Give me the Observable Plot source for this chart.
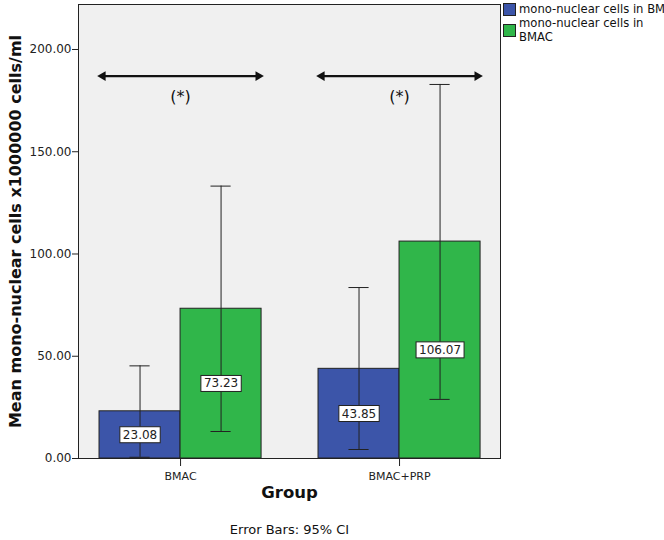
<!DOCTYPE html>
<html>
<head>
<meta charset="utf-8">
<script src="https://cdn.jsdelivr.net/npm/d3@7"></script>
<script src="https://cdn.jsdelivr.net/npm/@observablehq/plot@0.6"></script>
<style>
  html, body { margin: 0; padding: 0; background: #fff; }
  #wrap { position: relative; width: 664px; height: 540px; font-family: "DejaVu Sans", sans-serif; overflow: hidden; }
  #legend { position: absolute; left: 503px; top: 2px; width: 165px; font-size: 11.6px; color: #111; line-height: 14px; }
  .li { display: flex; align-items: flex-start; margin-bottom: 0px; white-space: nowrap; }
  .sw { width: 11px; height: 11px; border: 1px solid #222; margin-right: 3px; flex: none; }
</style>
</head>
<body>
<div id="wrap"><div id="legend"></div></div>
<script>
// ---- data ----
const groups = ["BMAC", "BMAC+PRP"];
const seriesNames = ["mono-nuclear cells in BM", "mono-nuclear cells in BMAC"];
const seriesColors = ["#3c55a9", "#30b64a"];
const barGroup = ["BMAC", "BMAC", "BMAC+PRP", "BMAC+PRP"];
const barSeries = ["mono-nuclear cells in BM", "mono-nuclear cells in BMAC", "mono-nuclear cells in BM", "mono-nuclear cells in BMAC"];
const meanValues = [23.08, 73.23, 43.85, 106.07];
const ciLow = [0.6, 13.2, 4.4, 28.9];
const ciHigh = [45.3, 133.2, 83.6, 182.9];
const yTicks = [0, 50, 100, 150, 200];
const sigGroups = ["BMAC", "BMAC+PRP"];
const sigLevel = [187, 187];
const sigLabelLevel = [177, 177];
const sigText = ["(*)", "(*)"];

// ---- layout helpers ----
const half = 0.37;     // bar width in group units
const cap = 0.046;     // half cap width
const arrowHalf = 0.355;
const bars = meanValues.map((v, i) => {
  const g = groups.indexOf(barGroup[i]);
  const s = seriesNames.indexOf(barSeries[i]);
  const x1 = s === 0 ? g - half : g;
  const x2 = s === 0 ? g : g + half;
  return {group: barGroup[i], series: barSeries[i], value: v, lo: ciLow[i], hi: ciHigh[i], x1, x2, xc: (x1 + x2) / 2, label: v.toFixed(2)};
});
const sigs = sigGroups.map((g, i) => {
  const gi = groups.indexOf(g);
  return {x1: gi - arrowHalf, x2: gi + arrowHalf, xc: gi, y: sigLevel[i], ly: sigLabelLevel[i], t: sigText[i]};
});
const heads = sigs.flatMap(s => [{x: s.x1, y: s.y, r: -90}, {x: s.x2, y: s.y, r: 90}]);

const chart = Plot.plot({
  width: 664,
  height: 540,
  marginTop: 4,
  marginLeft: 78,
  marginRight: 164,
  marginBottom: 82,
  style: {fontFamily: "DejaVu Sans, sans-serif", fontSize: "11px", color: "#222", background: "#fff"},
  x: {type: "linear", domain: [-0.466, 1.461], axis: null},
  y: {domain: [0, 222], axis: null},
  color: {domain: seriesNames, range: seriesColors},
  marks: [
    Plot.frame({fill: "#f0f0f0"}),
    Plot.axisY({ticks: yTicks, tickFormat: d => d.toFixed(2), tickSize: 6, tickPadding: 1, label: null, fontSize: 12}),
    Plot.axisX({ticks: [0, 1], tickFormat: i => groups[i], tickSize: 8, tickPadding: 6, label: null, fontSize: 11}),
    Plot.rect(bars, {x1: "x1", x2: "x2", y1: 0, y2: "value", fill: "series", stroke: "#222", strokeWidth: 1}),
    Plot.ruleX(bars, {x: "xc", y1: "lo", y2: "hi", stroke: "#222", strokeWidth: 1}),
    Plot.ruleY(bars, {y: "hi", x1: d => d.xc - cap, x2: d => d.xc + cap, stroke: "#222", strokeWidth: 1}),
    Plot.ruleY(bars, {y: "lo", x1: d => d.xc - cap, x2: d => d.xc + cap, stroke: "#222", strokeWidth: 1}),
    Plot.text(bars, {x: "xc", y: d => d.value / 2, text: "label", fontSize: 12, fill: "#222"}),
    Plot.link(sigs, {x1: "x1", x2: "x2", y1: "y", y2: "y", stroke: "#111", strokeWidth: 2.2}),
    Plot.dot(heads, {x: "x", y: "y", symbol: "triangle", rotate: "r", r: 3.6, fill: "#111", stroke: "none"}),
    Plot.text(sigs, {x: "xc", y: "ly", text: "t", fontSize: 16, fill: "#111"}),
    Plot.text(["Group"], {frameAnchor: "bottom", dy: 39, fontSize: 16.5, fontWeight: "bold", fill: "#111"}),
    Plot.text(["Error Bars: 95% CI"], {frameAnchor: "bottom", dy: 75, fontSize: 13, fill: "#111"}),
    Plot.text(["Mean mono-nuclear cells x1000000 cells/ml"], {frameAnchor: "left", textAnchor: "middle", dx: -63, rotate: -90, fontSize: 16, fontWeight: "bold", fill: "#111"}),
    Plot.frame({stroke: "#222", strokeWidth: 1})
  ]
});

const wrap = document.getElementById("wrap");
wrap.insertBefore(chart, wrap.firstChild);

// white boxes behind the value labels
const labelSet = new Set(bars.map(b => b.label));
d3.select(chart).selectAll("text").each(function() {
  if (!labelSet.has(this.textContent)) return;
  const bb = this.getBBox();
  const parent = this.parentNode;
  const r = document.createElementNS("http://www.w3.org/2000/svg", "rect");
  r.setAttribute("x", bb.x - 3);
  r.setAttribute("y", bb.y - 1);
  r.setAttribute("width", bb.width + 6);
  r.setAttribute("height", bb.height + 2);
  r.setAttribute("fill", "#fff");
  r.setAttribute("stroke", "#222");
  r.setAttribute("stroke-width", 1);
  const tr = this.getAttribute("transform");
  if (tr) r.setAttribute("transform", tr);
  parent.insertBefore(r, this);
});

// legend
const legend = d3.select("#legend");
const legendLabels = ["mono-nuclear cells in BM", "mono-nuclear cells in<br>BMAC"];
seriesNames.forEach((s, i) => {
  const li = legend.append("div").attr("class", "li");
  li.append("div").attr("class", "sw").style("background", seriesColors[i]).style("margin-top", i === 0 ? "1px" : "8px");
  li.append("div").html(legendLabels[i]);
});
</script>
</body>
</html>
